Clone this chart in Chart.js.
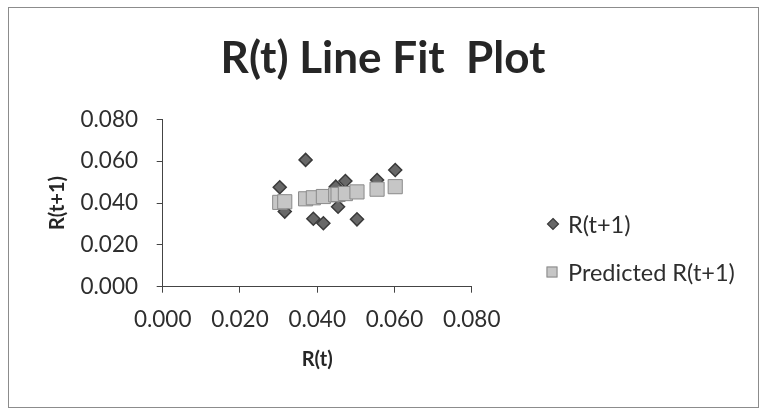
<!DOCTYPE html>
<html>
<head>
<meta charset="utf-8">
<script src="https://cdn.jsdelivr.net/npm/chart.js@4/dist/chart.umd.min.js"></script>
<style>
  html, body { margin: 0; padding: 0; background: #fff; }
  #wrap { width: 762px; height: 410px; position: relative; }
</style>
</head>
<body>
<div id="wrap"><canvas id="c" width="762" height="410"></canvas></div>
<script>
// ---- data ----
const chartTitle = 'R(t) Line Fit  Plot';
const xAxisTitle = 'R(t)';
const yAxisTitle = 'R(t+1)';
const seriesNames = ['R(t+1)', 'Predicted R(t+1)'];
const rtValues = [0.0303, 0.0316, 0.0370, 0.0390, 0.0416, 0.0448, 0.0454, 0.0473, 0.0503, 0.0555, 0.0602];
const rtNextValues = [0.0475, 0.0359, 0.0606, 0.0325, 0.0303, 0.0478, 0.0382, 0.0505, 0.0322, 0.0510, 0.0558];
const predictedValues = [0.0403, 0.0406, 0.0420, 0.0425, 0.0431, 0.0439, 0.0441, 0.0445, 0.0453, 0.0466, 0.0478];
const xTickLabels = ['0.000', '0.020', '0.040', '0.060', '0.080'];
const yTickLabels = ['0.000', '0.020', '0.040', '0.060', '0.080'];

const FONT = 'Lato, "Open Sans", "DejaVu Sans", sans-serif';
const TEXT = '#2e2e2e';
const DIAMOND_FILL = '#686868';
const DIAMOND_LINE = '#3a3a3a';
const SQUARE_FILL = '#c6c6c6';
const SQUARE_LINE = '#8a8a8a';

const toPoints = (xs, ys) => xs.map((x, i) => ({ x: x, y: ys[i] }));

const framePlugin = {
  id: 'frame',
  beforeDraw(chart) {
    const ctx = chart.ctx;
    ctx.save();
    ctx.fillStyle = '#ffffff';
    ctx.fillRect(0, 0, chart.width, chart.height);
    ctx.strokeStyle = '#8c8c8c';
    ctx.lineWidth = 1;
    ctx.strokeRect(8.5, 7.5, 750, 400);
    ctx.restore();
  },
  afterDraw(chart) {
    const ctx = chart.ctx;
    ctx.save();
    // title
    ctx.fillStyle = '#262626';
    ctx.font = 'bold 44px ' + FONT;
    ctx.textAlign = 'center';
    ctx.textBaseline = 'alphabetic';
    ctx.fillText(chartTitle, 383, 73);
    // legend
    ctx.font = '23.5px ' + FONT;
    ctx.textAlign = 'left';
    ctx.textBaseline = 'middle';
    ctx.fillStyle = TEXT;
    // diamond marker
    const dx = 553, dy = 224, r = 5.5;
    ctx.beginPath();
    ctx.moveTo(dx, dy - r); ctx.lineTo(dx + r, dy); ctx.lineTo(dx, dy + r); ctx.lineTo(dx - r, dy); ctx.closePath();
    ctx.fillStyle = DIAMOND_FILL; ctx.fill();
    ctx.strokeStyle = DIAMOND_LINE; ctx.lineWidth = 1.2; ctx.stroke();
    ctx.fillStyle = TEXT;
    ctx.fillText(seriesNames[0], 568, dy + 1);
    // square marker
    const sx = 552, sy = 272, s = 5.5;
    ctx.fillStyle = SQUARE_FILL;
    ctx.fillRect(sx - s, sy - s, 2 * s, 2 * s);
    ctx.strokeStyle = SQUARE_LINE; ctx.lineWidth = 1;
    ctx.strokeRect(sx - s + 0.5, sy - s + 0.5, 2 * s - 1, 2 * s - 1);
    ctx.fillStyle = TEXT;
    ctx.fillText(seriesNames[1], 568, sy + 1);
    ctx.restore();
  }
};

new Chart(document.getElementById('c'), {
  type: 'scatter',
  data: {
    datasets: [
      {
        label: seriesNames[1],
        data: toPoints(rtValues, predictedValues),
        pointStyle: 'rect',
        pointRadius: 10,
        backgroundColor: SQUARE_FILL,
        borderColor: SQUARE_LINE,
        borderWidth: 1,
        order: 0
      },
      {
        label: seriesNames[0],
        data: toPoints(rtValues, rtNextValues),
        pointStyle: 'rectRot',
        pointRadius: 6.5,
        backgroundColor: DIAMOND_FILL,
        borderColor: DIAMOND_LINE,
        borderWidth: 1.5,
        order: 1
      }
    ]
  },
  options: {
    responsive: false,
    animation: false,
    devicePixelRatio: 1,
    layout: { padding: { left: 0, right: 290.3, top: 119.3, bottom: 33.3 } },
    plugins: {
      legend: { display: false },
      title: { display: false },
      tooltip: { enabled: false }
    },
    scales: {
      x: {
        type: 'linear',
        min: 0, max: 0.08,
        afterFit(scale) { scale.height = 90; },
        afterBuildTicks(scale) {
          scale.ticks = xTickLabels.map(t => ({ value: parseFloat(t) }));
        },
        ticks: {
          color: TEXT,
          font: { family: FONT, size: 22.5 },
          padding: 14,
          maxRotation: 0,
          callback: (v, i) => xTickLabels[i]
        },
        grid: { drawOnChartArea: false, drawTicks: true, tickLength: 6, color: '#444', lineWidth: 1 },
        border: { display: true, color: '#444', width: 1 },
        title: {
          display: true,
          text: xAxisTitle,
          color: '#262626',
          font: { family: FONT, size: 20, weight: 'bold' },
          padding: { top: 0, bottom: 4.7 }
        }
      },
      y: {
        type: 'linear',
        min: 0, max: 0.08,
        afterFit(scale) { scale.width = 162.7; },
        afterBuildTicks(scale) {
          scale.ticks = yTickLabels.map(t => ({ value: parseFloat(t) }));
        },
        ticks: {
          color: TEXT,
          font: { family: FONT, size: 22.5 },
          padding: 18.7,
          callback: (v, i) => yTickLabels[i]
        },
        grid: { drawOnChartArea: false, drawTicks: true, tickLength: 6, color: '#444', lineWidth: 1 },
        border: { display: true, color: '#444', width: 1 },
        title: {
          display: true,
          text: yAxisTitle,
          color: '#262626',
          font: { family: FONT, size: 20, weight: 'bold' },
          padding: { top: 45.5, bottom: 0 }
        }
      }
    }
  },
  plugins: [framePlugin]
});
</script>
</body>
</html>
